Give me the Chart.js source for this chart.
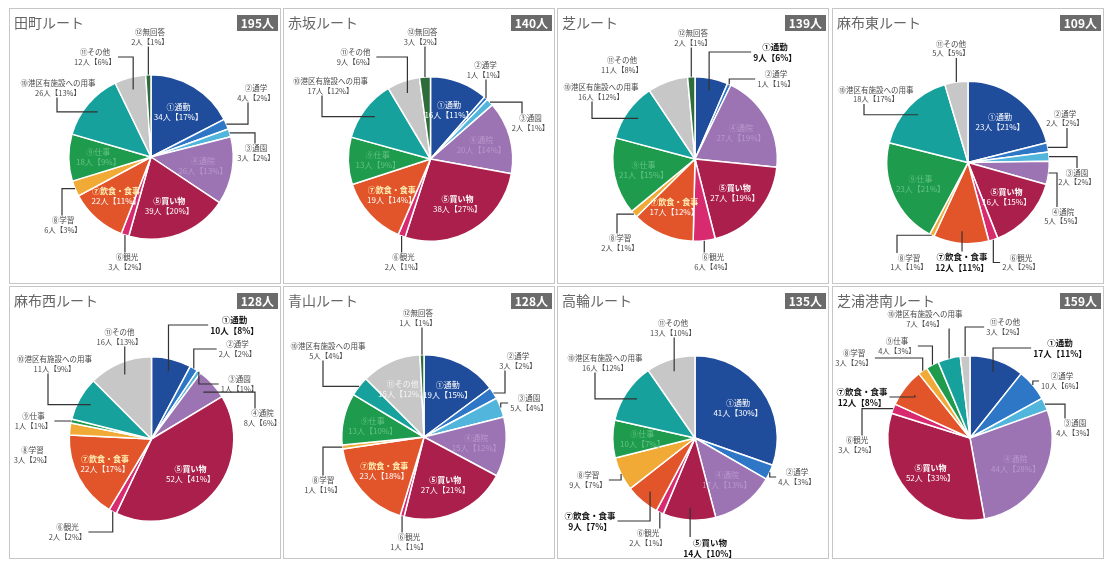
<!DOCTYPE html>
<html lang="ja">
<head>
<meta charset="utf-8">
<title>ルート別 利用目的</title>
<script src="https://cdn.jsdelivr.net/npm/chart.js@4.4.1/dist/chart.umd.min.js"></script>
<style>
  body { margin: 0; background: #fff; width: 1105px; height: 563px; overflow: hidden;
         font-family: 'Noto Sans CJK JP', 'Noto Sans', sans-serif; }
  .panel { position: absolute; border: 1px solid #c6c6c6; box-sizing: border-box; background: #fff; }
  .panel canvas { position: absolute; left: 0; top: 0; }
  .title { position: absolute; left: 4px; top: 4px; font-size: 14px; line-height: 18px; color: #666; }
  .badge { position: absolute; right: 2px; top: 6px; height: 16px; padding: 0 4px; background: #6b6b6b;
           color: #fff; font-weight: bold; font-size: 12px; line-height: 16px; }
</style>
</head>
<body>
<script>
// 利用目的の区分（時計回り、12時の位置から）
const categories = ['①通勤', '②通学', '③通園', '④通院', '⑤買い物', '⑥観光', '⑦飲食・食事',
  '⑧学習', '⑨仕事', '⑩港区有施設への用事', '⑪その他', '⑫無回答'];

const routeNames = ['田町ルート', '赤坂ルート', '芝ルート', '麻布東ルート',
  '麻布西ルート', '青山ルート', '高輪ルート', '芝浦港南ルート'];

// 人数（区分順）
const tamachi       = [34, 4, 3, 26, 39, 3, 22, 6, 18, 26, 12, 2];
const akasaka       = [16, 1, 2, 20, 38, 2, 19, 0, 13, 17, 9, 3];
const shiba         = [9, 1, 0, 27, 27, 6, 17, 2, 21, 16, 11, 2];
const azabuHigashi  = [23, 2, 2, 5, 16, 2, 12, 1, 23, 18, 5, 0];
const azabuNishi    = [10, 2, 1, 8, 52, 2, 22, 3, 1, 11, 16, 0];
const aoyama        = [19, 3, 5, 15, 27, 1, 23, 1, 13, 5, 15, 1];
const takanawa      = [41, 4, 0, 17, 14, 2, 9, 9, 10, 16, 13, 0];
const shibauraKonan = [17, 10, 4, 44, 52, 3, 12, 3, 4, 7, 3, 0];

const routeValues = [tamachi, akasaka, shiba, azabuHigashi, azabuNishi, aoyama, takanawa, shibauraKonan];

const sliceColors = ['#1f4c9b', '#2e76c6', '#52b5dc', '#9c73b3', '#ab1f4d', '#d82b6f', '#e2552b',
  '#f0aa35', '#1f9b4d', '#17a19c', '#c7c7c7', '#2e6d3b'];

// 枠の配置
const panelX = [9, 283, 557, 832];
const panelY = [8, 286];
const panelW = 272;
const panelH = [276, 273];
const pieCenter = [[142, 149], [147.5, 151], [138, 151], [136, 154.5],
                   [142.5, 153], [141, 151], [138, 152], [138, 152]];
const pieRadius = [82, 82, 82, 81, 82, 82, 82, 82];

// 外側ラベル：i=区分, x/y=円の中心からの位置, m=引出線の形 (s:直線 h:横→縦 v:縦→横 n:なし)
const outsideLabels = [
  [ {i: 11, x: -1, y: -120, m: 's'}, {i: 10, x: -56, y: -100, m: 'v'},
    {i: 9, x: -93, y: -69, m: 'h', lx: -94}, {i: 1, x: 105, y: -64, m: 'h', lx: 97},
    {i: 2, x: 105, y: -4, m: 'h', lx: 104}, {i: 5, x: -24, y: 105, m: 's'},
    {i: 7, x: -88, y: 68, m: 'h', lx: -89} ],
  [ {i: 11, x: -8, y: -122, m: 's'}, {i: 10, x: -75, y: -102, m: 'v'},
    {i: 9, x: -100, y: -73, m: 'h', lx: -108.5}, {i: 1, x: 55, y: -89, m: 's'},
    {i: 2, x: 100, y: -36, m: 'h', lx: 91.5}, {i: 5, x: -27, y: 103, m: 's'} ],
  [ {i: 11, x: -2, y: -121, m: 's'}, {i: 10, x: -73, y: -94, m: 'n'},
    {i: 9, x: -94, y: -67, m: 'h', lx: -103}, {i: 0, x: 80, y: -107, m: 'v', bold: true},
    {i: 1, x: 81, y: -80, m: 'v'}, {i: 7, x: -75, y: 84, m: 'h', lx: -78},
    {i: 5, x: 18, y: 103, m: 's'} ],
  [ {i: 10, x: -17, y: -114, m: 's'}, {i: 9, x: -92, y: -68, m: 'h', lx: -104},
    {i: 1, x: 97, y: -44, m: 'h', lx: 99}, {i: 2, x: 109, y: 15, m: 'h', lx: 109},
    {i: 3, x: 95, y: 54, m: 'h', lx: 89}, {i: 5, x: 53, y: 100, m: 'v'},
    {i: 6, x: -6, y: 100, m: 's', bold: true}, {i: 7, x: -59, y: 100, m: 'h', lx: -71} ],
  [ {i: 0, x: 83, y: -114, m: 'v', bold: true}, {i: 1, x: 86, y: -90, m: 'v'},
    {i: 2, x: 88, y: -55, m: 'v'}, {i: 3, x: 111, y: -21, m: 'h', lx: 103.5},
    {i: 5, x: -84, y: 93, m: 'v'}, {i: 7, x: -119, y: 16, m: 'n'},
    {i: 8, x: -118, y: -18, m: 'v'}, {i: 9, x: -97, y: -75, m: 'h', lx: -103.5},
    {i: 10, x: -32, y: -102, m: 's'} ],
  [ {i: 11, x: -6, y: -119, m: 's'}, {i: 9, x: -96, y: -86, m: 'h', lx: -101},
    {i: 1, x: 94, y: -76, m: 'h', lx: 81}, {i: 2, x: 105, y: -34, m: 'v'},
    {i: 5, x: -15, y: 105, m: 's'}, {i: 7, x: -101, y: 48, m: 'h', lx: -101} ],
  [ {i: 10, x: -22, y: -110, m: 's'}, {i: 9, x: -90, y: -75, m: 'h', lx: -100},
    {i: 1, x: 102, y: 39, m: 'v'}, {i: 7, x: -107, y: 42, m: 'v', rs: 1},
    {i: 6, x: -105, y: 83, m: 'v', bold: true}, {i: 5, x: -47, y: 100, m: 's'},
    {i: 4, x: 15, y: 110, m: 's', bold: true} ],
  [ {i: 10, x: 35, y: -111, m: 'v'}, {i: 9, x: -45, y: -119, m: 's'},
    {i: 8, x: -73, y: -92, m: 'v'}, {i: 7, x: -116, y: -80, m: 'v'},
    {i: 6, x: -108, y: -41, m: 'v', bold: true}, {i: 5, x: -113, y: 7, m: 'h', lx: -108},
    {i: 0, x: 90, y: -90, m: 'v', bold: true}, {i: 1, x: 92, y: -57, m: 'v', rs: 1},
    {i: 2, x: 105, y: -10, m: 'h', lx: 95} ]
];

// 円の内側に置く文字の色 [区分名, 人数, 太字]
const insideInk = {
  0: ['#ffffff', '#ffffff', false],
  3: ['#b898cb', '#b898cb', false],
  4: ['#ffffff', '#ffffff', true],
  6: ['#fff0b4', '#ffffff', true],
  8: ['#63c283', '#63c283', false],
  10: ['#f4f4f4', '#f4f4f4', false]
};

const fontFamily = "'Noto Sans CJK JP', sans-serif";

function valueText(v, total) {
  return v + '人【' + Math.round(v / total * 100) + '%】';
}

function drawBlock(ctx, x, y, lines, font, colors, gap) {
  ctx.textAlign = 'center';
  ctx.textBaseline = 'middle';
  lines.forEach((t, k) => {
    ctx.font = font[k];
    ctx.fillStyle = colors[k];
    ctx.fillText(t, x, y + (k - 0.5) * gap);
  });
}

const routeLabels = {
  id: 'routeLabels',
  afterDatasetsDraw(chart, args, opts) {
    const ctx = chart.ctx;
    const meta = chart.getDatasetMeta(0);
    const values = chart.data.datasets[0].data;
    const total = values.reduce((a, b) => a + b, 0);
    const first = meta.data[0];
    const cx = first.x, cy = first.y, r = first.outerRadius;
    const outside = opts.outside || [];
    const outsideIdx = new Set(outside.map(o => o.i));
    ctx.save();

    // 内側ラベル
    meta.data.forEach((arc, i) => {
      if (!values[i] || outsideIdx.has(i)) return;
      const mid = (arc.startAngle + arc.endAngle) / 2;
      const x = cx + Math.cos(mid) * r * 0.64;
      const y = cy + Math.sin(mid) * r * 0.64;
      const ink = insideInk[i] || ['#ffffff', '#ffffff', false];
      drawBlock(ctx, x, y, [categories[i], valueText(values[i], total)],
        [(ink[2] ? 'bold ' : '') + '8px ' + fontFamily, '8px ' + fontFamily],
        [ink[0], ink[1]], 10);
    });

    // 外側ラベルと引出線
    outside.forEach(o => {
      const arc = meta.data[o.i];
      const v = values[o.i];
      const mid = (arc.startAngle + arc.endAngle) / 2;
      const rs = (o.rs !== undefined ? o.rs : (v / total >= 0.05 ? 0.85 : 1)) * r;
      const sx = cx + Math.cos(mid) * rs, sy = cy + Math.sin(mid) * rs;
      const lx = cx + o.x, ly = cy + o.y;
      const size = o.bold ? 8.5 : 7.5;
      const font = (o.bold ? 'bold ' : '') + size + 'px ' + fontFamily;
      const lines = [categories[o.i], valueText(v, total)];
      ctx.font = font;
      const hw = Math.max(...lines.map(t => ctx.measureText(t).width)) / 2 + 2;
      const gap = o.bold ? 11 : 9.5;
      const hh = gap;

      ctx.strokeStyle = '#333';
      ctx.lineWidth = 1.2;
      ctx.beginPath();
      if (o.m === 's') {
        ctx.moveTo(sx, sy);
        ctx.lineTo(sx, ly + (sy > ly ? hh : -hh));
      } else if (o.m === 'h') {
        const bx = cx + o.lx;
        ctx.moveTo(sx, sy);
        ctx.lineTo(bx, sy);
        ctx.lineTo(bx, ly + (sy > ly ? hh : -hh));
      } else if (o.m === 'v') {
        ctx.moveTo(sx, sy);
        ctx.lineTo(sx, ly);
        ctx.lineTo(lx + (sx > lx ? hw : -hw), ly);
      }
      ctx.stroke();

      const ink = o.bold ? '#111' : '#4a4a4a';
      drawBlock(ctx, lx, ly, lines, [font, font], [ink, ink], gap);
    });
    ctx.restore();
  }
};

routeNames.forEach((name, k) => {
  const col = k % 4, row = Math.floor(k / 4);
  const w = panelW, h = panelH[row];
  const panel = document.createElement('div');
  panel.className = 'panel';
  panel.style.left = panelX[col] + 'px';
  panel.style.top = panelY[row] + 'px';
  panel.style.width = w + 'px';
  panel.style.height = h + 'px';

  const values = routeValues[k];
  const total = values.reduce((a, b) => a + b, 0);

  const canvas = document.createElement('canvas');
  const cw = w - 2, ch = h - 2;
  canvas.width = cw;
  canvas.height = ch;
  canvas.style.width = cw + 'px';
  canvas.style.height = ch + 'px';
  panel.appendChild(canvas);

  const title = document.createElement('div');
  title.className = 'title';
  title.textContent = name;
  panel.appendChild(title);

  const badge = document.createElement('div');
  badge.className = 'badge';
  badge.textContent = total + '人';
  panel.appendChild(badge);

  document.body.appendChild(panel);

  const cx = pieCenter[k][0] - 1, cy = pieCenter[k][1] - 1, r = pieRadius[k] + 1;

  new Chart(canvas, {
    type: 'pie',
    data: {
      labels: categories,
      datasets: [{
        data: values,
        backgroundColor: sliceColors,
        borderColor: '#ffffff',
        borderWidth: 1.5
      }]
    },
    options: {
      responsive: false,
      animation: false,
      layout: { padding: { left: cx - r, right: cw - cx - r, top: cy - r, bottom: ch - cy - r } },
      plugins: {
        legend: { display: false },
        tooltip: { enabled: false },
        routeLabels: { outside: outsideLabels[k] }
      }
    },
    plugins: [routeLabels]
  });
});
</script>
</body>
</html>
